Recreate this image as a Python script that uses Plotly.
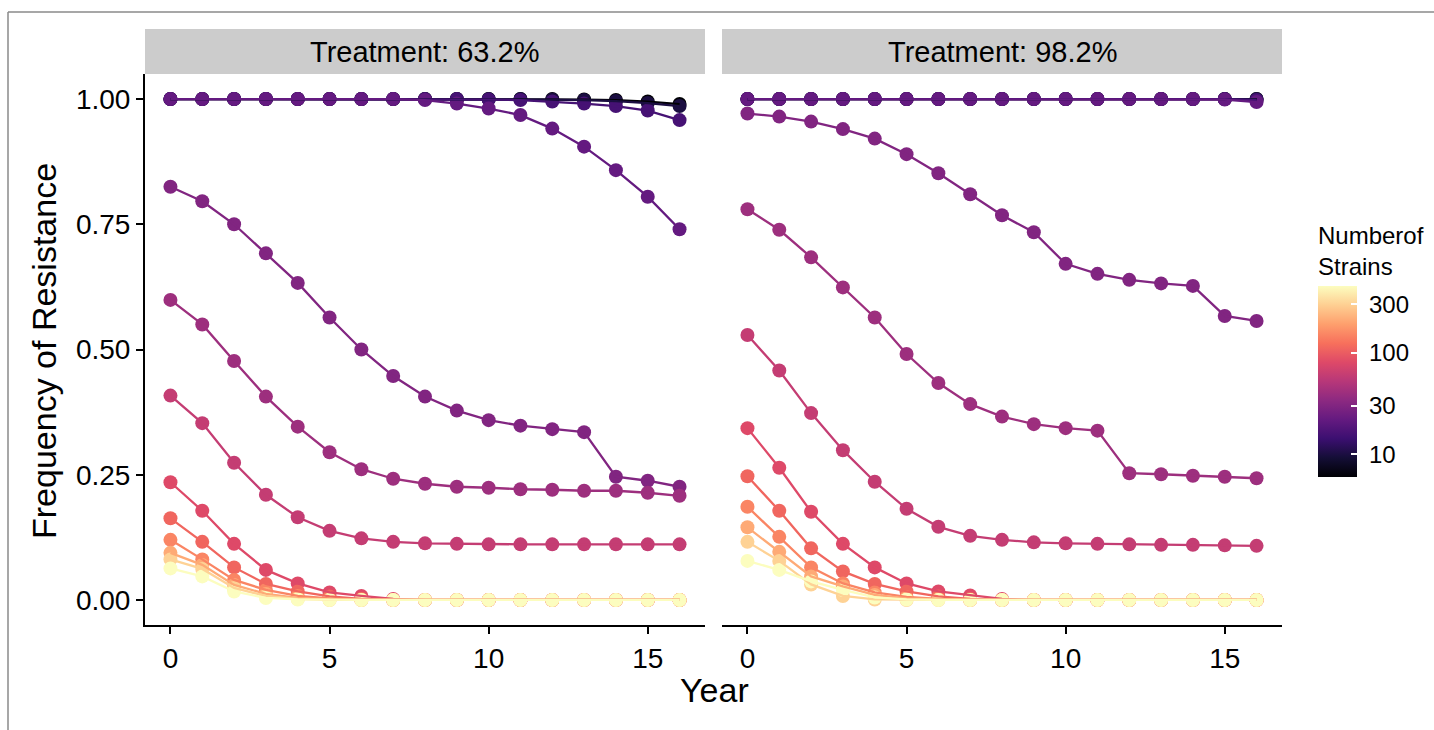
import numpy as np
import plotly.graph_objects as go
from plotly.colors import sample_colorscale

years = list(range(17))
strains = [6, 10, 16, 22, 30, 40, 60, 80, 110, 150, 210, 300, 450]
panels = ["Treatment: 63.2%", "Treatment: 98.2%"]

freq_632 = [
    [1, 1, 1, 1, 1, 1, 1, 1, 1, 1, 1, 1, 1, 0.999, 0.998, 0.995, 0.990],
    [1, 1, 1, 1, 1, 1, 1, 1, 1, 1, 1, 1, 0.999, 0.998, 0.996, 0.992, 0.986],
    [1, 1, 1, 1, 1, 1, 1, 1, 1, 1, 0.999, 0.998, 0.995, 0.991, 0.986, 0.977, 0.958],
    [1, 1, 1, 1, 1, 1, 1, 1, 0.998, 0.991, 0.981, 0.968, 0.941, 0.905, 0.858, 0.805, 0.740],
    [0.825, 0.796, 0.750, 0.692, 0.633, 0.564, 0.500, 0.447, 0.406, 0.378, 0.359, 0.348, 0.341, 0.335, 0.246, 0.238, 0.226],
    [0.599, 0.550, 0.477, 0.406, 0.346, 0.295, 0.261, 0.242, 0.232, 0.226, 0.224, 0.221, 0.220, 0.218, 0.218, 0.214, 0.208],
    [0.408, 0.353, 0.274, 0.210, 0.165, 0.138, 0.123, 0.116, 0.113, 0.112, 0.111, 0.111, 0.111, 0.111, 0.111, 0.111, 0.111],
    [0.235, 0.178, 0.112, 0.060, 0.033, 0.015, 0.008, 0.002, 0, 0, 0, 0, 0, 0, 0, 0, 0],
    [0.163, 0.116, 0.065, 0.032, 0.017, 0.007, 0.002, 0, 0, 0, 0, 0, 0, 0, 0, 0, 0],
    [0.120, 0.081, 0.040, 0.020, 0.008, 0.003, 0.001, 0, 0, 0, 0, 0, 0, 0, 0, 0, 0],
    [0.094, 0.070, 0.030, 0.012, 0.004, 0.001, 0, 0, 0, 0, 0, 0, 0, 0, 0, 0, 0],
    [0.081, 0.062, 0.024, 0.008, 0.002, 0, 0, 0, 0, 0, 0, 0, 0, 0, 0, 0, 0],
    [0.063, 0.047, 0.017, 0.004, 0.001, 0, 0, 0, 0, 0, 0, 0, 0, 0, 0, 0, 0],
]

freq_982 = [
    [1, 1, 1, 1, 1, 1, 1, 1, 1, 1, 1, 1, 1, 1, 1, 1, 1],
    [1, 1, 1, 1, 1, 1, 1, 1, 1, 1, 1, 1, 1, 1, 1, 1, 1],
    [1, 1, 1, 1, 1, 1, 1, 1, 1, 1, 1, 1, 1, 1, 1, 1, 0.998],
    [1, 1, 1, 1, 1, 1, 1, 1, 1, 1, 1, 1, 1, 1, 1, 0.999, 0.994],
    [0.971, 0.965, 0.955, 0.940, 0.921, 0.890, 0.852, 0.810, 0.768, 0.734, 0.671, 0.651, 0.639, 0.632, 0.627, 0.567, 0.557],
    [0.780, 0.739, 0.684, 0.624, 0.564, 0.491, 0.433, 0.391, 0.366, 0.351, 0.343, 0.338, 0.253, 0.251, 0.248, 0.246, 0.243],
    [0.529, 0.458, 0.373, 0.299, 0.236, 0.182, 0.146, 0.128, 0.120, 0.115, 0.113, 0.112, 0.111, 0.110, 0.110, 0.109, 0.108],
    [0.343, 0.264, 0.176, 0.112, 0.065, 0.033, 0.017, 0.009, 0.002, 0, 0, 0, 0, 0, 0, 0, 0],
    [0.247, 0.178, 0.103, 0.057, 0.032, 0.017, 0.007, 0.002, 0, 0, 0, 0, 0, 0, 0, 0, 0],
    [0.186, 0.126, 0.065, 0.033, 0.015, 0.006, 0.002, 0, 0, 0, 0, 0, 0, 0, 0, 0, 0],
    [0.145, 0.096, 0.047, 0.027, 0.010, 0.003, 0.001, 0, 0, 0, 0, 0, 0, 0, 0, 0, 0],
    [0.116, 0.078, 0.031, 0.008, 0.001, 0, 0, 0, 0, 0, 0, 0, 0, 0, 0, 0, 0],
    [0.078, 0.060, 0.037, 0.020, 0.005, 0.001, 0, 0, 0, 0, 0, 0, 0, 0, 0, 0, 0],
]

y_ticks = [0, 0.25, 0.5, 0.75, 1.0]
y_ticktext = ["0.00", "0.25", "0.50", "0.75", "1.00"]
x_ticks = [0, 5, 10, 15]
cb_ticks = [10, 30, 100, 300]

magma_hex = ["#000004", "#140E36", "#3B0F70", "#641A80", "#8C2981", "#B73779",
             "#DE4968", "#F7705C", "#FE9F6D", "#FECF92", "#FCFDBF"]
magma = [[i / 10, c] for i, c in enumerate(magma_hex)]

W, H = 1434, 730
FONT = "Liberation Sans, Arial, Helvetica, sans-serif"

lmin, lmax = np.log10(min(strains)), np.log10(max(strains))
ts = [(np.log10(n) - lmin) / (lmax - lmin) for n in strains]
cols = sample_colorscale(magma, ts)

fig = go.Figure()
axes = [("x", "y"), ("x2", "y2")]
datasets = [freq_632, freq_982]

for (xa, ya), data in zip(axes, datasets):
    # points first
    for n, c, vals in zip(strains, cols, data):
        fig.add_trace(go.Scatter(x=years, y=vals, mode="markers", xaxis=xa, yaxis=ya,
                                 marker=dict(size=14, color=c, line=dict(width=0)),
                                 showlegend=False, hoverinfo="skip"))
    # lines on top
    for n, c, vals in zip(strains, cols, data):
        fig.add_trace(go.Scatter(x=years, y=vals, mode="lines", xaxis=xa, yaxis=ya,
                                 line=dict(color=c, width=2.3),
                                 showlegend=False, name=str(n)))

# colorbar trace
fig.add_trace(go.Scatter(
    x=[None], y=[None], mode="markers", showlegend=False, hoverinfo="skip",
    marker=dict(color=[lmin, lmax], cmin=lmin, cmax=lmax, colorscale=magma, showscale=True,
                colorbar=dict(
                    x=1318 / W, xanchor="left", y=(H - 477) / H, yanchor="bottom",
                    len=254, lenmode="pixels", thickness=39, thicknessmode="pixels",
                    outlinewidth=0, xpad=0, ypad=0,
                    ticks="inside", ticklen=6, tickcolor="white", tickwidth=1.5,
                    tickvals=[np.log10(v) for v in cb_ticks],
                    ticktext=["\u00a0" + str(v) for v in cb_ticks],
                    tickfont=dict(size=24, color="black", family=FONT),
                    title=dict(text="Numberof<br>Strains", side="top",
                               font=dict(size=24, color="black", family=FONT)),
                ))))

d1 = [145 / W, 705 / W]
d2 = [722 / W, 1282 / W]
ydom = [(H - 625) / H, (H - 74) / H]

TICK = 28
xcommon = dict(range=[-0.8, 16.8], tickvals=x_ticks, showgrid=False, zeroline=False,
               showline=True, linecolor="black", linewidth=2, ticks="outside", ticklen=7,
               tickwidth=2, tickcolor="black", tickfont=dict(size=TICK, color="black", family=FONT))
fig.update_layout(
    width=W, height=H, margin=dict(l=0, r=0, t=0, b=0),
    paper_bgcolor="white", plot_bgcolor="white",
    font=dict(family=FONT, color="black"),
    xaxis=dict(domain=d1, anchor="y", **xcommon),
    xaxis2=dict(domain=d2, anchor="y2", **xcommon),
    yaxis=dict(domain=ydom, anchor="x", range=[-0.05, 1.05], tickvals=y_ticks, ticktext=y_ticktext,
               showgrid=False, zeroline=False, showline=True, linecolor="black", linewidth=2,
               ticks="outside", ticklen=7, tickwidth=2, tickcolor="black",
               tickfont=dict(size=TICK, color="black", family=FONT)),
    yaxis2=dict(domain=ydom, anchor="x2", range=[-0.05, 1.05], showticklabels=False,
                showgrid=False, zeroline=False, showline=False, ticks=""),
)

shapes = []
annotations = []
for dom, label in zip([d1, d2], panels):
    shapes.append(dict(type="rect", xref="paper", yref="paper", x0=dom[0], x1=dom[1],
                       y0=(H - 74) / H, y1=(H - 29) / H, fillcolor="#cccccc", line=dict(width=0),
                       layer="below"))
    annotations.append(dict(text=label, xref="paper", yref="paper", x=(dom[0] + dom[1]) / 2,
                            y=(H - 51.5) / H, showarrow=False, xanchor="center", yanchor="middle",
                            font=dict(size=29, color="black", family=FONT)))

# frame lines
shapes.append(dict(type="line", xref="paper", yref="paper", x0=8 / W, x1=1, y0=(H - 12) / H,
                   y1=(H - 12) / H, line=dict(color="#8a8a8a", width=1.5)))
shapes.append(dict(type="line", xref="paper", yref="paper", x0=8 / W, x1=8 / W, y0=0,
                   y1=(H - 12) / H, line=dict(color="#8a8a8a", width=1.5)))

annotations.append(dict(text="Year", xref="paper", yref="paper", x=714 / W, y=(H - 690) / H,
                        showarrow=False, xanchor="center", yanchor="middle",
                        font=dict(size=34, color="black", family=FONT)))
annotations.append(dict(text="Frequency of Resistance", xref="paper", yref="paper", x=44 / W,
                        y=(H - 351) / H, showarrow=False, textangle=-90, xanchor="center",
                        yanchor="middle", font=dict(size=34, color="black", family=FONT)))

fig.update_layout(shapes=shapes, annotations=annotations)
fig.write_html("out.html")
